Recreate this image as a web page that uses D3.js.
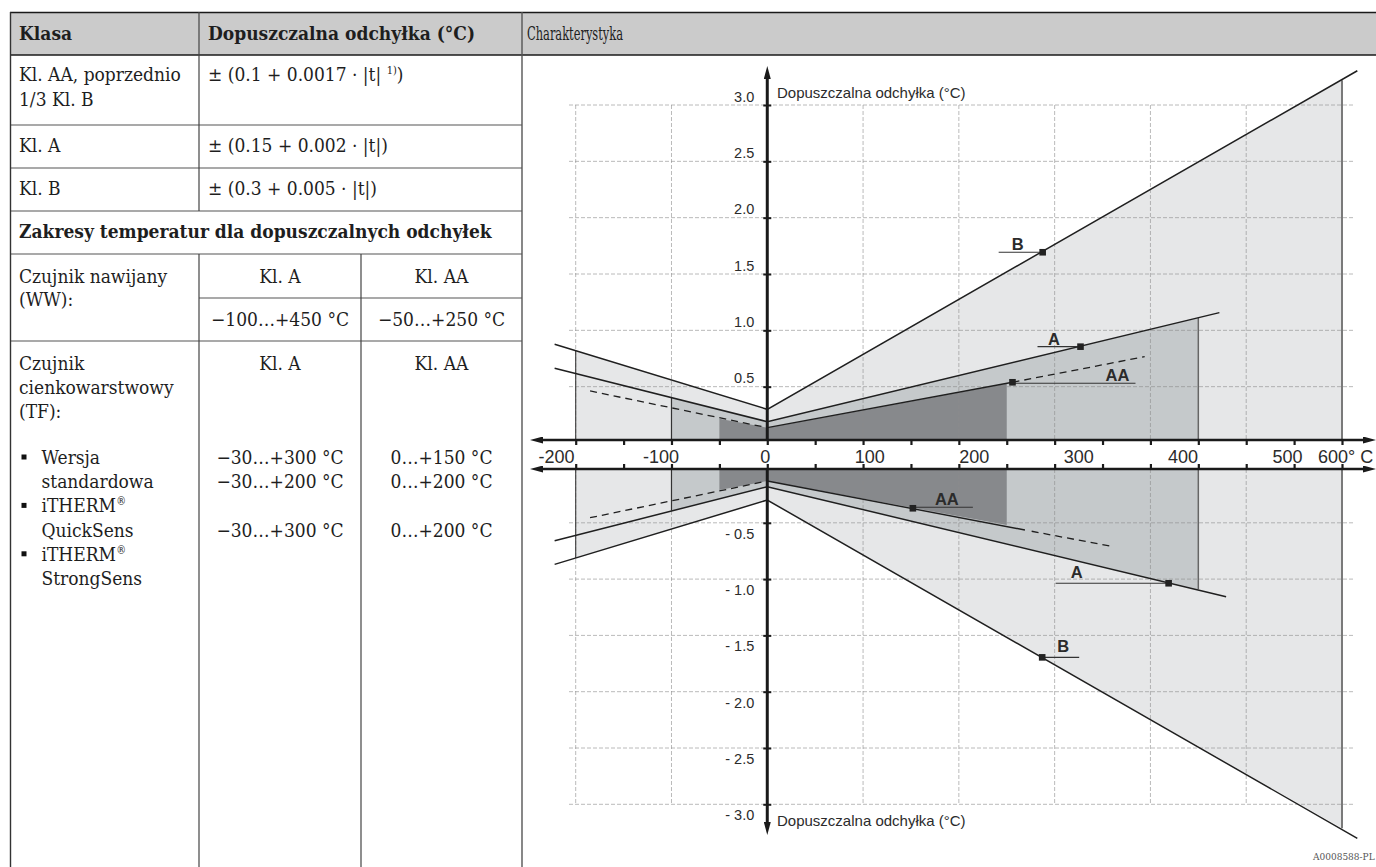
<!DOCTYPE html>
<html>
<head>
<meta charset="utf-8">
<script src="https://cdn.jsdelivr.net/npm/d3@7"></script>
<style>
body { margin: 0; background: #fff; }
.tbl text { font-family: "DejaVu Serif Condensed", "DejaVu Serif", serif; font-stretch: condensed; font-size: 19px; fill: #1e1e1e; }
.tbl text.b { font-weight: bold; }
.chart text { font-family: "Liberation Sans", Arial, sans-serif; fill: #2b2b2b; }
</style>
</head>
<body>
<svg id="fig" width="1376" height="867"></svg>
<script>
// ---- table text
const headers = ["Klasa", "Dopuszczalna odchyłka (°C)", "Charakterystyka"];
const classNames = [["Kl. AA, poprzednio", "1/3 Kl. B"], ["Kl. A"], ["Kl. B"]];
const formulas = ["± (0.1 + 0.0017 · |t| ", "± (0.15 + 0.002 · |t|)", "± (0.3 + 0.005 · |t|)"];
const rangeTitle = "Zakresy temperatur dla dopuszczalnych odchyłek";
const colHeads = ["Kl. A", "Kl. AA"];
const wwLabel = ["Czujnik nawijany", "(WW):"];
const wwRanges = ["−100…+450 °C", "−50…+250 °C"];
const tfLabel = ["Czujnik", "cienkowarstwowy", "(TF):"];
const tfItems = [["Wersja", "standardowa"], ["iTHERM", "QuickSens"], ["iTHERM", "StrongSens"]];
const tfRangesA = ["−30…+300 °C", "−30…+200 °C", "−30…+300 °C"];
const tfRangesAA = ["0…+150 °C", "0…+200 °C", "0…+200 °C"];

// ---- chart values (temperature °C, deviation °C)
const tickValues = [-200, -150, -100, -50, 0, 50, 100, 150, 200, 250, 300, 350, 400, 450, 500, 550, 600];
const labelValues = [-200, -100, 0, 100, 200, 300, 400, 500];
const gridX = [-200, -100, 100, 200, 300, 400, 500, 600];
const gridYUp = [0.5, 1.0, 1.5, 2.0, 2.5, 3.0];
const gridYDn = [-0.5, -1.0, -1.5, -2.0, -2.5, -3.0];

const regionBUp = [[-200, 0.819], [0, 0.299], [600, 3.22]];
const regionAUp = [[-100, 0.402], [0, 0.189], [450, 1.11]];
const regionAAUp = [[-50, 0.215], [0, 0.136], [250, 0.525]];
const regionBDn = [[-200, -0.812], [0, -0.298], [600, -3.213]];
const regionADn = [[-100, -0.392], [0, -0.179], [450, -1.09]];
const regionAADn = [[-50, -0.209], [0, -0.129], [250, -0.52]];

const lineBUp = [[-222, 0.876], [0, 0.299], [616, 3.304]];
const lineAUp = [[-222, 0.663], [0, 0.189], [472, 1.157]];
const lineAAUp = [[0, 0.136], [256, 0.539]];
const dashAAUpLeft = [[-185, 0.462], [0, 0.136]];
const dashAAUpRight = [[256, 0.539], [394, 0.766]];
const lineBDn = [[-222, -0.869], [0, -0.298], [616, -3.302]];
const lineADn = [[-222, -0.659], [0, -0.179], [479, -1.156]];
const lineAADn = [[0, -0.129], [269, -0.564]];
const dashAADnLeft = [[-185, -0.455], [0, -0.129]];
const dashAADnRight = [[276, -0.575], [361, -0.712]];

const markerClass = ["B", "A", "AA", "AA", "A", "B"];
const markerT = [287.5, 327, 256, 152, 419, 287];
const markerV = [1.693, 0.855, 0.539, -0.371, -1.037, -1.695];
// leader line and label offsets (px) relative to each marker
const markerLayout = [
  {lead: [-44, 0], ly: 0, tx: -25, ty: -2},
  {lead: [-43, 0], ly: 0, tx: -26.5, ty: -2},
  {lead: [0, 123], ly: 1, tx: 105, ty: -1},
  {lead: [0, 60], ly: -1, tx: 34, ty: -3},
  {lead: [-113, 0], ly: 0, tx: -92, ty: -5},
  {lead: [0, 37], ly: 0, tx: 21, ty: -5}
];

const svg = d3.select("#fig");

// ================= table =================
const tbl = svg.append("g").attr("class", "tbl");
const colX = [10, 199, 361, 522, 1376];
tbl.append("rect").attr("x", colX[0]).attr("y", 12).attr("width", colX[4] - colX[0]).attr("height", 43).attr("fill", "#cbcbcb");

function hline(g, x1, x2, y, w, c) {
  g.append("line").attr("x1", x1).attr("x2", x2).attr("y1", y).attr("y2", y)
    .attr("stroke", c || "#3a3a3a").attr("stroke-width", w || 1);
}
function vline(g, xx, y1, y2, w, c) {
  g.append("line").attr("x1", xx).attr("x2", xx).attr("y1", y1).attr("y2", y2)
    .attr("stroke", c || "#3a3a3a").attr("stroke-width", w || 1);
}
function txt(g, xx, y, s, cls, anchor) {
  return g.append("text").attr("x", xx).attr("y", y).attr("class", cls || null)
    .attr("text-anchor", anchor || "start").text(s);
}

hline(tbl, colX[0], colX[4], 12.5, 1.6, "#1a1a1a");
hline(tbl, colX[0], colX[4], 55, 1.6, "#1a1a1a");
[125, 168, 211, 254, 341].forEach(y => hline(tbl, colX[0], colX[3], y, 1.2, "#555"));
hline(tbl, colX[1], colX[3], 298, 1.2, "#555");
vline(tbl, colX[0] + 0.5, 12, 867, 1.4, "#333");
vline(tbl, colX[1], 12, 211, 1.2, "#444");
vline(tbl, colX[1], 254, 867, 1.2, "#444");
vline(tbl, colX[2], 254, 867, 1.2, "#444");
vline(tbl, colX[3], 12, 867, 1.4, "#555");

txt(tbl, 19, 40, headers[0], "b");
txt(tbl, 208, 40, headers[1], "b");
txt(tbl, 527, 40, headers[2]).attr("textLength", 96).attr("lengthAdjust", "spacingAndGlyphs");

txt(tbl, 19, 81, classNames[0][0]);
txt(tbl, 19, 106, classNames[0][1]);
const f0 = txt(tbl, 208, 81, formulas[0]);
f0.append("tspan").attr("dy", -7).style("font-size", "11px").text("1)");
f0.append("tspan").attr("dy", 7).text(")");
txt(tbl, 19, 152, classNames[1][0]);
txt(tbl, 208, 152, formulas[1]);
txt(tbl, 19, 195, classNames[2][0]);
txt(tbl, 208, 195, formulas[2]);
txt(tbl, 19, 238, rangeTitle, "b");

const c2 = (colX[1] + colX[2]) / 2, c3 = (colX[2] + colX[3]) / 2;
txt(tbl, 19, 283, wwLabel[0]);
txt(tbl, 19, 306, wwLabel[1]);
txt(tbl, c2, 283, colHeads[0], null, "middle");
txt(tbl, c3, 283, colHeads[1], null, "middle");
txt(tbl, c2, 326, wwRanges[0], null, "middle");
txt(tbl, c3, 326, wwRanges[1], null, "middle");

const lh = 24.2;
tfLabel.forEach((s, i) => txt(tbl, 19, 370 + i * lh, s));
txt(tbl, c2, 370, colHeads[0], null, "middle");
txt(tbl, c3, 370, colHeads[1], null, "middle");
tfItems.forEach((item, i) => {
  const y0 = 464 + i * 2 * lh;
  tbl.append("rect").attr("x", 21.5).attr("y", y0 - 9.5).attr("width", 5).attr("height", 5).attr("fill", "#111");
  const t = txt(tbl, 41.5, y0, item[0]);
  if (item[0] === "iTHERM") t.append("tspan").attr("dy", -7).style("font-size", "11px").text("®");
  txt(tbl, 41.5, y0 + lh, item[1]);
});
const tfLine = [0, 1, 3];
tfRangesA.forEach((s, i) => txt(tbl, c2, 464 + tfLine[i] * lh, s, null, "middle"));
tfRangesAA.forEach((s, i) => txt(tbl, c3, 464 + tfLine[i] * lh, s, null, "middle"));

// ================= chart =================
const chart = svg.append("g").attr("class", "chart");
const x = d3.scaleLinear().domain([-200, 600]).range([575.7, 1342]);
const xLab = d3.scaleLinear().domain([-200, 500]).range([556, 1287]);
const yUp = d3.scaleLinear().domain([0, 3]).range([443, 105]);
const yDn = d3.scaleLinear().domain([0, -3]).range([466.5, 804.3]);
const axisUpY = 440, axisDnY = 469;

const defs = svg.append("defs");
defs.append("clipPath").attr("id", "clipUp").append("rect").attr("x", 0).attr("y", 0).attr("width", 1376).attr("height", axisUpY);
defs.append("clipPath").attr("id", "clipDn").append("rect").attr("x", 0).attr("y", axisDnY).attr("width", 1376).attr("height", 867 - axisDnY);
defs.append("marker").attr("id", "arr").attr("viewBox", "0 0 13 7").attr("refX", 0).attr("refY", 3.5)
  .attr("markerWidth", 13).attr("markerHeight", 7).attr("markerUnits", "userSpaceOnUse").attr("orient", "auto-start-reverse")
  .append("path").attr("d", "M0,0 L13,3.5 L0,7 Z").attr("fill", "#1a1a1a");

const halves = [
  {ys: yUp, clip: "clipUp", regions: [regionBUp, regionAUp, regionAAUp], grid: gridYUp, gy: [yUp(3), axisUpY]},
  {ys: yDn, clip: "clipDn", regions: [regionBDn, regionADn, regionAADn], grid: gridYDn, gy: [axisDnY, yDn(-3)]}
];
const fills = ["#e6e7e8", "#c5c9cb", "#87898c"];

halves.forEach(h => {
  const g = chart.append("g").attr("clip-path", "url(#" + h.clip + ")");
  const area = d3.area().x(d => x(d[0])).y0(h.ys(0)).y1(d => h.ys(d[1]));
  h.regions.forEach((r, i) => g.append("path").attr("d", area(r)).attr("fill", fills[i]));
});

// grid
const grid = chart.append("g").attr("stroke", "#8c8c8c").attr("stroke-opacity", 0.6).attr("stroke-width", 1).attr("stroke-dasharray", "4 2");
halves.forEach(h => {
  h.grid.forEach(v => grid.append("line").attr("x1", 569).attr("x2", 1355).attr("y1", h.ys(v)).attr("y2", h.ys(v)));
  gridX.forEach(t => grid.append("line").attr("x1", x(t)).attr("x2", x(t)).attr("y1", h.gy[0]).attr("y2", h.gy[1]));
});

// region edges
const edgeStyle = [["#3a3a3a", 1.1, "#7a7a7a", 2], ["#333", 1.2, "#666", 1.5]];
halves.forEach(h => {
  const base = h.ys === yUp ? axisUpY : axisDnY;
  [0, 1].forEach(i => {
    const r = h.regions[i], s = edgeStyle[i];
    const first = r[0], last = r[r.length - 1];
    vline(chart, x(first[0]), base, h.ys(first[1]), s[1], s[0]);
    vline(chart, x(last[0]), base, h.ys(last[1]), s[3], s[2]);
  });
});

// class lines
function drawLine(data, ys, w, dash) {
  const ln = d3.line().x(d => x(d[0])).y(d => ys(d[1]));
  chart.append("path").attr("d", ln(data)).attr("fill", "none").attr("stroke", "#1f1f1f")
    .attr("stroke-width", w).attr("stroke-dasharray", dash || null);
}
drawLine(lineBUp, yUp, 1.5); drawLine(lineAUp, yUp, 1.5); drawLine(lineAAUp, yUp, 1.4);
drawLine(dashAAUpLeft, yUp, 1.3, "7 5"); drawLine(dashAAUpRight, yUp, 1.3, "7 5");
drawLine(lineBDn, yDn, 1.5); drawLine(lineADn, yDn, 1.5); drawLine(lineAADn, yDn, 1.4);
drawLine(dashAADnLeft, yDn, 1.3, "7 5"); drawLine(dashAADnRight, yDn, 1.3, "7 5");

// markers + labels
markerClass.forEach((c, i) => {
  const ys = markerV[i] >= 0 ? yUp : yDn;
  const mx = x(markerT[i]), my = ys(markerV[i]), L = markerLayout[i];
  chart.append("line").attr("x1", mx + L.lead[0]).attr("x2", mx + L.lead[1]).attr("y1", my + L.ly).attr("y2", my + L.ly)
    .attr("stroke", "#333").attr("stroke-width", 1.2);
  chart.append("rect").attr("x", mx - 3.3).attr("y", my - 3.3).attr("width", 6.6).attr("height", 6.6).attr("fill", "#222");
  chart.append("text").attr("x", mx + L.tx).attr("y", my + L.ty).attr("text-anchor", "middle")
    .style("font-size", "16.5px").style("font-weight", "bold").text(c);
});

// horizontal axes (double arrows)
[axisUpY, axisDnY].forEach(y => {
  chart.append("line").attr("x1", 530 + 13).attr("x2", 1376 - 13).attr("y1", y).attr("y2", y)
    .attr("stroke", "#1a1a1a").attr("stroke-width", 2.6)
    .attr("marker-start", "url(#arr)").attr("marker-end", "url(#arr)");
});
const tickUp = chart.append("g").attr("transform", "translate(0," + axisUpY + ")")
  .call(d3.axisBottom(x).tickValues(tickValues).tickSize(5).tickFormat(""));
const tickDn = chart.append("g").attr("transform", "translate(0," + axisDnY + ")")
  .call(d3.axisTop(x).tickValues(tickValues).tickSize(5).tickFormat(""));
[tickUp, tickDn].forEach(g => {
  g.select(".domain").remove();
  g.selectAll(".tick line").attr("stroke", "#1a1a1a").attr("stroke-width", 2.2);
});

// x labels between the two axes
const labG = chart.append("g").attr("transform", "translate(0,462.5)")
  .call(d3.axisBottom(xLab).tickValues(labelValues).tickSize(0).tickPadding(0).tickFormat(d => String(d)));
labG.select(".domain").remove();
labG.selectAll("text").attr("y", 0).attr("dy", null).attr("fill", "#333")
  .style("font-family", "'Liberation Sans', Arial, sans-serif").style("font-size", "18px");
chart.append("text").attr("x", x(600) - 24).attr("y", 462.5).style("font-size", "18px").attr("fill", "#333").text("600° C");

// vertical axis
const x0 = x(0);
chart.append("line").attr("x1", x0).attr("x2", x0).attr("y1", axisUpY).attr("y2", 66 + 13)
  .attr("stroke", "#1a1a1a").attr("stroke-width", 3).attr("marker-end", "url(#arr)");
chart.append("line").attr("x1", x0).attr("x2", x0).attr("y1", axisDnY).attr("y2", 835 - 13)
  .attr("stroke", "#1a1a1a").attr("stroke-width", 3).attr("marker-end", "url(#arr)");

const yAxUp = chart.append("g").attr("transform", "translate(" + x0 + ",0)")
  .call(d3.axisLeft(yUp).tickValues(gridYUp).tickSize(4).tickPadding(9).tickFormat(d3.format(".1f")));
const yAxDn = chart.append("g").attr("transform", "translate(" + x0 + ",0)")
  .call(d3.axisLeft(yDn).tickValues(gridYDn).tickSize(4).tickPadding(9).tickFormat(d => "- " + Math.abs(d).toFixed(1)));
[[yAxUp, -4], [yAxDn, 15.5]].forEach(([g, dy]) => {
  g.select(".domain").remove();
  g.selectAll(".tick line").attr("x1", 4).attr("stroke", "#1a1a1a").attr("stroke-width", 2);
  g.selectAll(".tick text").attr("dy", dy).attr("fill", "#333")
    .style("font-family", "'Liberation Sans', Arial, sans-serif").style("font-size", "14.5px");
});

chart.append("text").attr("x", 777).attr("y", 97.5).style("font-size", "15px").text("Dopuszczalna odchyłka (°C)");
chart.append("text").attr("x", 777).attr("y", 826).style("font-size", "15px").text("Dopuszczalna odchyłka (°C)");

svg.append("text").attr("x", 1313).attr("y", 860).style("font-family", "'DejaVu Serif Condensed', 'DejaVu Serif', serif")
  .style("font-stretch", "condensed").style("font-size", "10px").attr("fill", "#555").text("A0008588-PL");
</script>
</body>
</html>
